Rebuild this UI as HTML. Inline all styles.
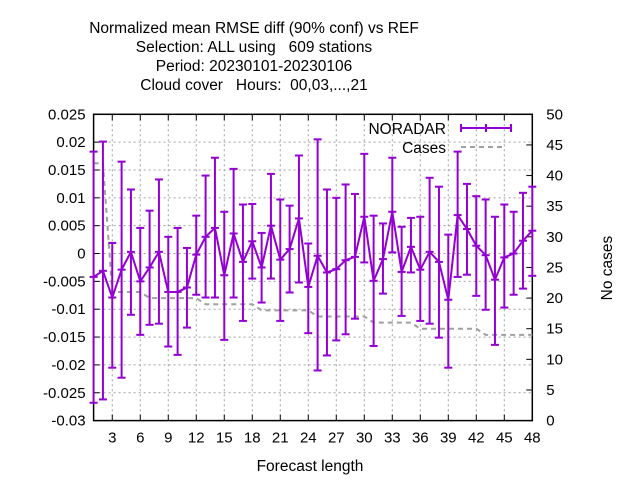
<!DOCTYPE html>
<html><head><meta charset="utf-8"><style>
body{margin:0;background:#fff;}
svg{display:block;font-family:"Liberation Sans","DejaVu Sans",sans-serif;}
text{white-space:pre;}
</style></head><body>
<svg id="chart" width="640" height="480" xmlns="http://www.w3.org/2000/svg">
<g font-size="15.5" text-anchor="middle" fill="#000">
<text x="254" y="33">Normalized mean RMSE diff (90% conf) vs REF</text>
<text x="254" y="52">Selection: ALL using   609 stations</text>
<text x="254" y="71">Period: 20230101-20230106</text>
<text x="254" y="90">Cloud cover   Hours:  00,03,...,21</text>
</g>
<g id="grid"></g>
<g id="axes"></g>
<g id="cases"></g>
<g id="series"></g>
<text x="310" y="471" font-size="15.5" text-anchor="middle">Forecast length</text>
<text transform="translate(612,268) rotate(-90)" font-size="15.5" text-anchor="middle">No cases</text>
<g>
<text x="446" y="134" font-size="15.5" text-anchor="end">NORADAR</text>
<line x1="461" y1="128" x2="511" y2="128" stroke="#9400d3" stroke-width="2"/>
<line x1="461" y1="124" x2="461" y2="132" stroke="#9400d3" stroke-width="2"/>
<line x1="486" y1="124" x2="486" y2="132" stroke="#9400d3" stroke-width="2"/>
<line x1="511" y1="124" x2="511" y2="132" stroke="#9400d3" stroke-width="2"/>
<text x="446" y="153" font-size="15.5" text-anchor="end">Cases</text>
<line x1="461" y1="147" x2="505" y2="147" stroke="#a0a0a0" stroke-width="2" stroke-dasharray="5,4"/>
</g>
</svg>
<script>
const hours=[1,2,3,4,5,6,7,8,9,10,11,12,13,14,15,16,17,18,19,20,21,22,23,24,25,26,27,28,29,30,31,32,33,34,35,36,37,38,39,40,41,42,43,44,45,46,47,48];
const meanVals=[-0.0042,-0.0031,-0.0079,-0.0029,0.0003,-0.0050,-0.0025,0.0003,-0.0069,-0.0069,-0.0061,-0.0002,0.0030,0.0046,-0.0039,0.0036,-0.0015,0.0022,-0.0025,0.0050,-0.0011,0.0008,0.0063,-0.0060,-0.0004,-0.0034,-0.0028,-0.0012,-0.0006,0.0066,-0.0049,-0.0010,0.0075,-0.0033,0.0012,-0.0029,0.0003,-0.0015,-0.0083,0.0069,0.0044,0.0014,-0.0003,-0.0047,-0.0007,0.0000,0.0023,0.0041];
const hiVals=[0.0183,0.0201,0.0019,0.0165,0.0115,0.0046,0.0077,0.0133,0.0030,0.0046,0.0010,0.0068,0.0140,0.0172,0.0075,0.0152,0.0088,0.0089,0.0037,0.0143,0.0097,0.0086,0.0176,0.0018,0.0205,0.0115,0.0100,0.0124,0.0107,0.0179,0.0068,0.0054,0.0172,0.0048,0.0064,0.0066,0.0136,0.0120,0.0034,0.0183,0.0125,0.0103,0.0097,0.0066,0.0088,0.0075,0.0109,0.0120];
const loVals=[-0.0268,-0.0262,-0.0205,-0.0223,-0.0110,-0.0146,-0.0128,-0.0126,-0.0167,-0.0182,-0.0133,-0.0074,-0.0079,-0.0079,-0.0155,-0.0079,-0.0121,-0.0045,-0.0088,-0.0045,-0.0121,-0.0070,-0.0052,-0.0143,-0.0210,-0.0183,-0.0156,-0.0145,-0.0117,-0.0016,-0.0166,-0.0072,0.0002,-0.0112,-0.0034,-0.0121,-0.0126,-0.0151,-0.0205,-0.0042,-0.0038,-0.0076,-0.0101,-0.0164,-0.0097,-0.0074,-0.0063,-0.0040];
const casesVals=[42,42,21,21,21,21,20,20,20,20,20,20,19,19,19,19,19,19,18,18,18,18,18,18,17,17,17,17,17,17,16,16,16,16,16,15,15,15,15,15,15,15,14,14,14,14,14,14];
const yTicks=["0.025","0.02","0.015","0.01","0.005","0","-0.005","-0.01","-0.015","-0.02","-0.025","-0.03"];
const y2Ticks=[0,5,10,15,20,25,30,35,40,45,50];
const xTicks=[3,6,9,12,15,18,21,24,27,30,33,36,39,42,45,48];

const L=93.6,R=532.3,T=114.3,B=420.6;
const X=h=>L+(h-1)*(R-L)/47;
const Y=v=>B-(v+0.03)*(B-T)/0.055;
const Y2=c=>B-c*(B-T)/50;
const NS="http://www.w3.org/2000/svg";
function mk(tag,attrs,parent){const e=document.createElementNS(NS,tag);for(const k in attrs)e.setAttribute(k,attrs[k]);parent.appendChild(e);return e;}
const grid=document.getElementById('grid'),axes=document.getElementById('axes');
yTicks.forEach(t=>{const y=Y(parseFloat(t));
 if(y>T+1&&y<B-1){const g=mk('line',{x1:L,x2:R,y1:y,y2:y,stroke:'#a0a0a0','stroke-width':1,'stroke-dasharray':'2,3'},grid);
 
 }
 mk('line',{x1:L,x2:L+6,y1:y,y2:y,stroke:'#000'},axes);
 const tx=mk('text',{x:L-8,y:y+5,'font-size':15,'text-anchor':'end'},axes);tx.textContent=t;
 
 
});
y2Ticks.forEach(c=>{const y=Y2(c);
 mk('line',{x1:R-6,x2:R,y1:y,y2:y,stroke:'#000'},axes);
 const tx=mk('text',{x:R+14,y:y+5,'font-size':15},axes);tx.textContent=c;
 
 
});
xTicks.forEach(h=>{const x=X(h);
 if(x<R-1){const g=mk('line',{x1:x,x2:x,y1:T,y2:B,stroke:'#a0a0a0','stroke-width':1,'stroke-dasharray':'2,3'},grid);
 
 }
 mk('line',{x1:x,x2:x,y1:B,y2:B-6,stroke:'#000'},axes);
 mk('line',{x1:x,x2:x,y1:T,y2:T+6,stroke:'#000'},axes);
 const tx=mk('text',{x:x,y:B+22,'font-size':15,'text-anchor':'middle'},axes);tx.textContent=h;
 
 
});
const fr=mk('rect',{x:L,y:T,width:R-L,height:B-T,fill:'none',stroke:'#000','stroke-width':1.5},axes);


const cs=document.getElementById('cases');
const cp=mk('polyline',{points:hours.map((h,i)=>X(h)+','+Y2(casesVals[i])).join(' '),fill:'none',stroke:'#a0a0a0','stroke-width':2,'stroke-dasharray':'5,4'},cs);


const sr=document.getElementById('series');
const C='#9400d3';
hours.forEach((h,i)=>{const x=X(h);
 const b=mk('line',{x1:x,x2:x,y1:Y(hiVals[i]),y2:Y(loVals[i]),stroke:C,'stroke-width':2},sr);
 
 
 mk('line',{x1:x-4,x2:x+4,y1:Y(hiVals[i]),y2:Y(hiVals[i]),stroke:C,'stroke-width':2},sr);
 mk('line',{x1:x-4,x2:x+4,y1:Y(loVals[i]),y2:Y(loVals[i]),stroke:C,'stroke-width':2},sr);
 mk('line',{x1:x-4,x2:x+4,y1:Y(meanVals[i]),y2:Y(meanVals[i]),stroke:C,'stroke-width':2},sr);
});
const ml=mk('polyline',{points:hours.map((h,i)=>X(h)+','+Y(meanVals[i])).join(' '),fill:'none',stroke:C,'stroke-width':2},sr);


</script>
</body></html>
